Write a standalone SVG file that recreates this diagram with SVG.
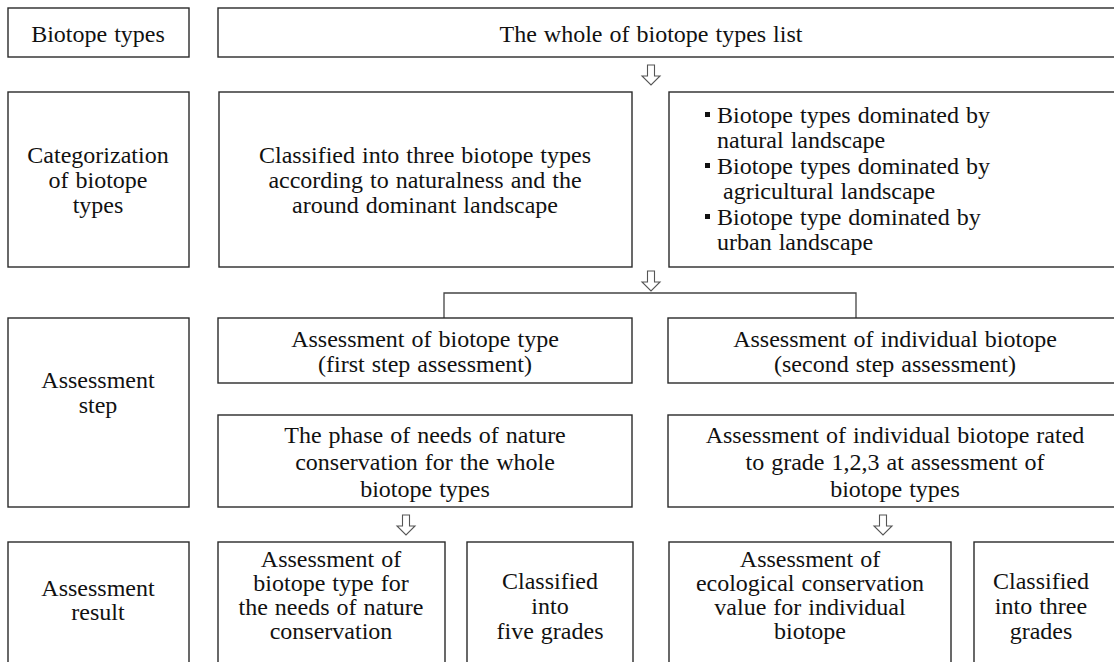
<svg xmlns="http://www.w3.org/2000/svg" width="1114" height="662" viewBox="0 0 1114 662">
<style>
.b{fill:#fff;stroke:#2a2a2a;stroke-width:1.4}
.t{font-family:"Liberation Serif","Times New Roman",serif;font-size:24px;fill:#111;text-anchor:middle;word-spacing:1px}
.l{font-family:"Liberation Serif","Times New Roman",serif;font-size:24px;fill:#111;word-spacing:1px}
.a{fill:#fff;stroke:#555;stroke-width:1.1}
.c{fill:none;stroke:#444;stroke-width:1.3}
.bul{fill:#111}
</style>
<defs>
<path id="arr" d="M-3.5,0 H3.5 V11 H9 L0,20 L-9,11 H-3.5 Z"/>
</defs>
<rect width="1114" height="662" fill="#fff"/>
<g id="connectors">
<use href="#arr" class="a" x="651" y="65"/>
<use href="#arr" class="a" x="651" y="271"/>
<use href="#arr" class="a" x="406" y="515"/>
<use href="#arr" class="a" x="883" y="515"/>
<polyline class="c" points="444,318 444,293 856,293 856,318"/>
</g>
<g id="n-biotope-types">
<rect class="b" x="8" y="8" width="181" height="49"/>
<text class="t" x="98" y="42">Biotope types</text>
</g>
<g id="n-whole-list">
<rect class="b" x="218" y="8" width="910" height="49"/>
<text class="t" x="651" y="42">The whole of biotope types list</text>
</g>
<g id="n-categorization">
<rect class="b" x="8" y="92" width="181" height="175"/>
<text class="t" x="98" y="163">Categorization</text>
<text class="t" x="98" y="188">of biotope</text>
<text class="t" x="98" y="213">types</text>
</g>
<g id="n-classified-three">
<rect class="b" x="219" y="92" width="413" height="175"/>
<text class="t" x="425" y="163">Classified into three biotope types</text>
<text class="t" x="425" y="188">according to naturalness and the</text>
<text class="t" x="425" y="213">around dominant landscape</text>
</g>
<g id="n-three-types">
<rect class="b" x="669" y="92" width="460" height="175"/>
<rect class="bul" x="705" y="112" width="5" height="5"/>
<text class="l" x="717" y="123">Biotope types dominated by</text>
<text class="l" x="717" y="148">natural landscape</text>
<rect class="bul" x="705" y="163" width="5" height="5"/>
<text class="l" x="717" y="174">Biotope types dominated by</text>
<text class="l" x="723" y="199">agricultural landscape</text>
<rect class="bul" x="705" y="214" width="5" height="5"/>
<text class="l" x="717" y="225">Biotope type dominated by</text>
<text class="l" x="717" y="250">urban landscape</text>
</g>
<g id="n-assessment-step">
<rect class="b" x="8" y="318" width="181" height="189"/>
<text class="t" x="98" y="388">Assessment</text>
<text class="t" x="98" y="413">step</text>
</g>
<g id="n-first-step">
<rect class="b" x="218" y="318" width="414" height="65"/>
<text class="t" x="425" y="347">Assessment of biotope type</text>
<text class="t" x="425" y="372">(first step assessment)</text>
</g>
<g id="n-second-step">
<rect class="b" x="668" y="318" width="460" height="65"/>
<text class="t" x="895" y="347">Assessment of individual biotope</text>
<text class="t" x="895" y="372">(second step assessment)</text>
</g>
<g id="n-phase-needs">
<rect class="b" x="218" y="415" width="414" height="92"/>
<text class="t" x="425" y="443">The phase of needs of nature</text>
<text class="t" x="425" y="470">conservation for the whole</text>
<text class="t" x="425" y="497">biotope types</text>
</g>
<g id="n-rated-grade">
<rect class="b" x="668" y="415" width="460" height="92"/>
<text class="t" x="895" y="443">Assessment of individual biotope rated</text>
<text class="t" x="895" y="470">to grade 1,2,3 at assessment of</text>
<text class="t" x="895" y="497">biotope types</text>
</g>
<g id="n-assessment-result">
<rect class="b" x="8" y="542" width="181" height="130"/>
<text class="t" x="98" y="596">Assessment</text>
<text class="t" x="98" y="620">result</text>
</g>
<g id="n-result-type">
<rect class="b" x="218" y="542" width="227" height="130"/>
<text class="t" x="331" y="567">Assessment of</text>
<text class="t" x="331" y="591">biotope type for</text>
<text class="t" x="331" y="615">the needs of nature</text>
<text class="t" x="331" y="639">conservation</text>
</g>
<g id="n-five-grades">
<rect class="b" x="467" y="542" width="166" height="130"/>
<text class="t" x="550" y="589">Classified</text>
<text class="t" x="550" y="614">into</text>
<text class="t" x="550" y="639">five grades</text>
</g>
<g id="n-result-individual">
<rect class="b" x="669" y="542" width="282" height="130"/>
<text class="t" x="810" y="567">Assessment of</text>
<text class="t" x="810" y="591">ecological conservation</text>
<text class="t" x="810" y="615">value for individual</text>
<text class="t" x="810" y="639">biotope</text>
</g>
<g id="n-three-grades">
<rect class="b" x="974" y="542" width="160" height="130"/>
<text class="t" x="1041" y="589">Classified</text>
<text class="t" x="1041" y="614">into three</text>
<text class="t" x="1041" y="639">grades</text>
</g>
</svg>
